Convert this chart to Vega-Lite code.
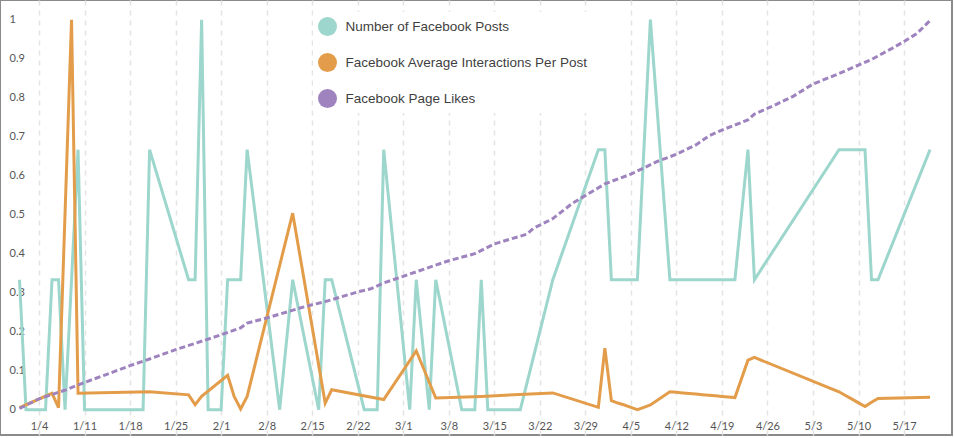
{
  "$schema": "https://vega.github.io/schema/vega-lite/v6.json",
  "width": 952,
  "height": 435,
  "autosize": {"type": "none"},
  "padding": {"left": 0, "top": 0, "right": 2, "bottom": 3},
  "config": {
    "view": {"stroke": "#8a8a8a", "strokeWidth": 2},
    "font": "Lato",
    "axisY": {
      "title": null,
      "values": [0, 0.1, 0.2, 0.3, 0.4, 0.5, 0.6, 0.7, 0.8, 0.9, 1],
      "format": "~g",
      "grid": false,
      "domain": false,
      "ticks": false,
      "labelAlign": "left",
      "labelPadding": -9,
      "labelBaseline": "middle",
      "labelFont": "Lato",
      "labelFontSize": 11,
      "labelColor": "#555555"
    }
  },
  "data": {
    "values": [
      {"date": "2015-01-01", "posts": 0.3333, "interactions": 0.005, "likes": 0.003},
      {"date": "2015-01-02", "posts": 0},
      {"date": "2015-01-03", "posts": 0},
      {"date": "2015-01-04", "posts": 0, "likes": 0.028},
      {"date": "2015-01-05", "posts": 0},
      {"date": "2015-01-06", "posts": 0.3333, "interactions": 0.042},
      {"date": "2015-01-07", "posts": 0.3333, "interactions": 0.005},
      {"date": "2015-01-08", "posts": 0, "likes": 0.05},
      {"date": "2015-01-09", "posts": 0.3333, "interactions": 1},
      {"date": "2015-01-10", "posts": 0.6667, "interactions": 0.042},
      {"date": "2015-01-11", "posts": 0, "likes": 0.07},
      {"date": "2015-01-12", "posts": 0},
      {"date": "2015-01-13", "posts": 0},
      {"date": "2015-01-14", "posts": 0, "likes": 0.088},
      {"date": "2015-01-15", "posts": 0},
      {"date": "2015-01-16", "posts": 0},
      {"date": "2015-01-17", "posts": 0},
      {"date": "2015-01-18", "posts": 0, "likes": 0.113},
      {"date": "2015-01-19", "posts": 0},
      {"date": "2015-01-20", "posts": 0},
      {"date": "2015-01-21", "posts": 0.6667, "interactions": 0.046, "likes": 0.13},
      {"date": "2015-01-25", "likes": 0.154},
      {"date": "2015-01-27", "posts": 0.3333, "interactions": 0.038},
      {"date": "2015-01-28", "posts": 0.3333, "interactions": 0.013, "likes": 0.17},
      {"date": "2015-01-29", "posts": 1, "interactions": 0.034},
      {"date": "2015-01-30", "posts": 0},
      {"date": "2015-01-31", "posts": 0},
      {"date": "2015-02-01", "posts": 0, "likes": 0.192},
      {"date": "2015-02-02", "posts": 0.3333, "interactions": 0.088},
      {"date": "2015-02-03", "posts": 0.3333, "interactions": 0.034},
      {"date": "2015-02-04", "posts": 0.3333, "interactions": 0.002, "likes": 0.21},
      {"date": "2015-02-05", "posts": 0.6667, "interactions": 0.034, "likes": 0.222},
      {"date": "2015-02-08", "likes": 0.235},
      {"date": "2015-02-10", "posts": 0},
      {"date": "2015-02-12", "posts": 0.3333, "interactions": 0.504},
      {"date": "2015-02-13", "likes": 0.26},
      {"date": "2015-02-15", "likes": 0.269},
      {"date": "2015-02-16", "posts": 0},
      {"date": "2015-02-17", "posts": 0.3333, "interactions": 0.017, "likes": 0.277},
      {"date": "2015-02-18", "posts": 0.3333, "interactions": 0.051},
      {"date": "2015-02-22", "likes": 0.302},
      {"date": "2015-02-23", "posts": 0},
      {"date": "2015-02-24", "posts": 0, "likes": 0.31},
      {"date": "2015-02-25", "posts": 0},
      {"date": "2015-02-26", "posts": 0.6667, "interactions": 0.026, "likes": 0.325},
      {"date": "2015-03-01", "likes": 0.342},
      {"date": "2015-03-02", "posts": 0},
      {"date": "2015-03-03", "posts": 0.3333, "interactions": 0.151},
      {"date": "2015-03-05", "posts": 0, "likes": 0.365},
      {"date": "2015-03-06", "posts": 0.3333, "interactions": 0.03},
      {"date": "2015-03-08", "likes": 0.382},
      {"date": "2015-03-10", "posts": 0},
      {"date": "2015-03-11", "posts": 0},
      {"date": "2015-03-12", "posts": 0, "likes": 0.4},
      {"date": "2015-03-13", "posts": 0.3333, "interactions": 0.034},
      {"date": "2015-03-14", "posts": 0},
      {"date": "2015-03-15", "posts": 0, "likes": 0.425},
      {"date": "2015-03-16", "posts": 0},
      {"date": "2015-03-17", "posts": 0},
      {"date": "2015-03-18", "posts": 0},
      {"date": "2015-03-19", "posts": 0},
      {"date": "2015-03-20", "likes": 0.45},
      {"date": "2015-03-21", "likes": 0.465},
      {"date": "2015-03-22", "likes": 0.473},
      {"date": "2015-03-24", "posts": 0.3333, "interactions": 0.043, "likes": 0.49},
      {"date": "2015-03-27", "likes": 0.529},
      {"date": "2015-03-31", "posts": 0.6667, "interactions": 0.006},
      {"date": "2015-04-01", "posts": 0.6667, "interactions": 0.158, "likes": 0.579},
      {"date": "2015-04-02", "posts": 0.3333, "interactions": 0.023},
      {"date": "2015-04-03", "posts": 0.3333, "interactions": 0.017},
      {"date": "2015-04-04", "posts": 0.3333, "interactions": 0.012},
      {"date": "2015-04-05", "posts": 0.3333, "interactions": 0.006, "likes": 0.604},
      {"date": "2015-04-06", "posts": 0.3333, "interactions": 0},
      {"date": "2015-04-07", "posts": 0.6667, "interactions": 0.006},
      {"date": "2015-04-08", "posts": 1, "interactions": 0.012},
      {"date": "2015-04-09", "likes": 0.636},
      {"date": "2015-04-11", "posts": 0.3333, "interactions": 0.046},
      {"date": "2015-04-12", "posts": 0.3333, "interactions": 0.0445, "likes": 0.655},
      {"date": "2015-04-13", "posts": 0.3333, "interactions": 0.043},
      {"date": "2015-04-14", "posts": 0.3333, "interactions": 0.0415},
      {"date": "2015-04-15", "posts": 0.3333, "interactions": 0.04, "likes": 0.679},
      {"date": "2015-04-16", "posts": 0.3333, "interactions": 0.0385},
      {"date": "2015-04-17", "posts": 0.3333, "interactions": 0.037, "likes": 0.702},
      {"date": "2015-04-18", "posts": 0.3333, "interactions": 0.0355},
      {"date": "2015-04-19", "posts": 0.3333, "interactions": 0.034, "likes": 0.717},
      {"date": "2015-04-20", "posts": 0.3333, "interactions": 0.0325},
      {"date": "2015-04-21", "posts": 0.3333, "interactions": 0.031},
      {"date": "2015-04-23", "posts": 0.6667, "interactions": 0.127, "likes": 0.743},
      {"date": "2015-04-24", "posts": 0.3333, "interactions": 0.134, "likes": 0.758},
      {"date": "2015-04-27", "likes": 0.78},
      {"date": "2015-04-30", "likes": 0.804},
      {"date": "2015-05-03", "likes": 0.835},
      {"date": "2015-05-07", "posts": 0.6667, "interactions": 0.046, "likes": 0.862},
      {"date": "2015-05-08", "posts": 0.6667, "interactions": 0.0365},
      {"date": "2015-05-09", "posts": 0.6667, "interactions": 0.027},
      {"date": "2015-05-10", "posts": 0.6667, "interactions": 0.0175},
      {"date": "2015-05-11", "posts": 0.6667, "interactions": 0.008},
      {"date": "2015-05-12", "posts": 0.3333, "interactions": 0.019, "likes": 0.898},
      {"date": "2015-05-13", "posts": 0.3333, "interactions": 0.029},
      {"date": "2015-05-15", "likes": 0.925},
      {"date": "2015-05-17", "likes": 0.944},
      {"date": "2015-05-19", "likes": 0.965},
      {"date": "2015-05-21", "posts": 0.6667, "interactions": 0.032, "likes": 0.998}
    ]
  },
  "encoding": {
    "x": {
      "field": "date",
      "type": "temporal",
      "scale": {
        "type": "utc",
        "domain": [
          {"year": 2014, "month": 12, "date": 29, "hours": 0, "utc": true},
          {"year": 2015, "month": 5, "date": 24, "hours": 9, "utc": true}
        ]
      },
      "axis": {
        "title": null,
        "values": [
          {"year": 2015, "month": 1, "date": 4, "utc": true},
          {"year": 2015, "month": 1, "date": 11, "utc": true},
          {"year": 2015, "month": 1, "date": 18, "utc": true},
          {"year": 2015, "month": 1, "date": 25, "utc": true},
          {"year": 2015, "month": 2, "date": 1, "utc": true},
          {"year": 2015, "month": 2, "date": 8, "utc": true},
          {"year": 2015, "month": 2, "date": 15, "utc": true},
          {"year": 2015, "month": 2, "date": 22, "utc": true},
          {"year": 2015, "month": 3, "date": 1, "utc": true},
          {"year": 2015, "month": 3, "date": 8, "utc": true},
          {"year": 2015, "month": 3, "date": 15, "utc": true},
          {"year": 2015, "month": 3, "date": 22, "utc": true},
          {"year": 2015, "month": 3, "date": 29, "utc": true},
          {"year": 2015, "month": 4, "date": 5, "utc": true},
          {"year": 2015, "month": 4, "date": 12, "utc": true},
          {"year": 2015, "month": 4, "date": 19, "utc": true},
          {"year": 2015, "month": 4, "date": 26, "utc": true},
          {"year": 2015, "month": 5, "date": 3, "utc": true},
          {"year": 2015, "month": 5, "date": 10, "utc": true},
          {"year": 2015, "month": 5, "date": 17, "utc": true}
        ],
        "format": "%-m/%-d",
        "grid": true,
        "gridDash": [5, 5],
        "gridColor": "#e3e3e3",
        "gridWidth": 1.5,
        "domain": false,
        "ticks": false,
        "labelPadding": -9,
        "labelBaseline": "middle",
        "labelFont": "Lato",
        "labelFontSize": 11,
        "labelColor": "#555555",
        "labelFlush": false,
        "labelOverlap": false
      }
    }
  },
  "layer": [
    {
      "transform": [{"filter": "isValid(datum.posts)"}],
      "mark": {"type": "line", "strokeWidth": 3},
      "encoding": {
        "y": {
          "field": "posts",
          "type": "quantitative",
          "title": null,
          "scale": {"domain": [-0.0649, 1.0505], "nice": false, "zero": false}
        },
        "color": {
          "datum": "Number of Facebook Posts",
          "type": "nominal",
          "scale": {
            "domain": ["Number of Facebook Posts", "Facebook Average Interactions Per Post", "Facebook Page Likes"],
            "range": ["#9dd6cc", "#e39d4a", "#9e83be"]
          },
          "legend": {
            "title": null,
            "orient": "none",
            "legendX": 313,
            "legendY": 12,
            "direction": "vertical",
            "padding": 5,
            "fillColor": "white",
            "symbolType": "circle",
            "symbolSize": 361,
            "symbolOpacity": 1,
            "labelFont": "Liberation Sans",
            "labelFontSize": 13.5,
            "labelColor": "#3f3f3f",
            "labelOffset": 8.5,
            "labelLimit": 400,
            "rowPadding": 17,
            "encode": {
              "symbols": {
                "update": {
                  "fill": {"scale": "color", "field": "value"},
                  "strokeWidth": {"value": 0},
                  "opacity": {"value": 1}
                }
              }
            }
          }
        }
      }
    },
    {
      "transform": [{"filter": "isValid(datum.interactions)"}],
      "mark": {"type": "line", "strokeWidth": 3},
      "encoding": {
        "y": {"field": "interactions", "type": "quantitative", "title": null},
        "color": {"datum": "Facebook Average Interactions Per Post", "type": "nominal"}
      }
    },
    {
      "transform": [{"filter": "isValid(datum.likes)"}],
      "mark": {"type": "line", "strokeWidth": 3, "strokeDash": [6, 3]},
      "encoding": {
        "y": {"field": "likes", "type": "quantitative", "title": null},
        "color": {"datum": "Facebook Page Likes", "type": "nominal"}
      }
    }
  ]
}
